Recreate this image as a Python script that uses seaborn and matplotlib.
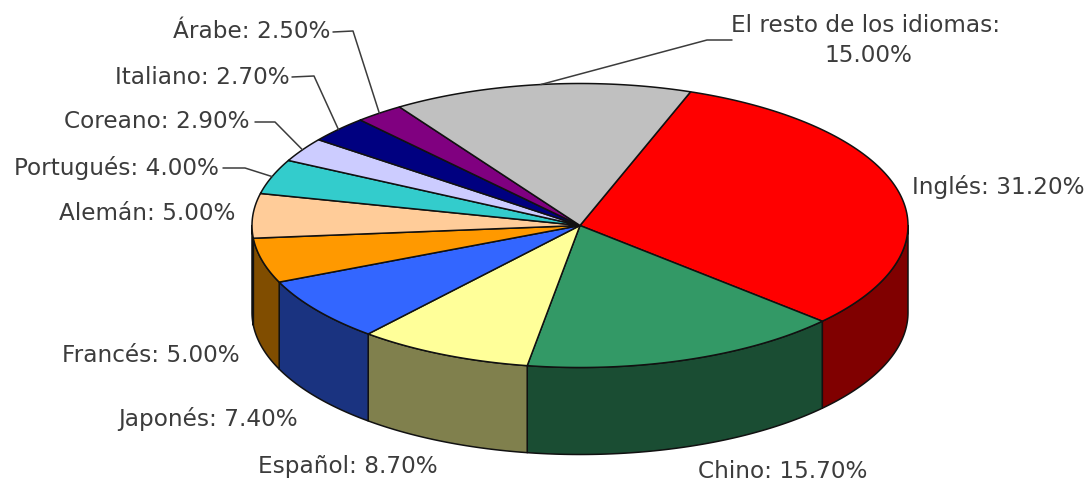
import numpy as np
import matplotlib
matplotlib.use("Agg")
import matplotlib.pyplot as plt
import seaborn as sns

languages = ["Inglés", "Chino", "Español", "Japonés", "Francés", "Alemán",
             "Portugués", "Coreano", "Italiano", "Árabe", "El resto de los idiomas"]
labelled_percent = [31.20, 15.70, 8.70, 7.40, 5.00, 5.00, 4.00, 2.90, 2.70, 2.50, 15.00]
# Share of the ring each slice really occupies in the picture (percent)
drawn_share = [31.3, 15.8, 8.6, 7.3, 5.1, 5.05, 3.95, 2.75, 3.0, 2.4, 14.75]
top_colors = ["#ff0000", "#339966", "#ffff99", "#3366ff", "#ff9900", "#ffcc99",
              "#33cccc", "#ccccff", "#000080", "#800080", "#c0c0c0"]

sns.set_theme(style="white")
plt.rcParams["font.family"] = ["DejaVu Sans"]

W, H = 1090, 482
CX, CY, RX, RY, DEPTH = 580, 225.5, 328, 142, 87
START = 70.3
TEXT = "#3c3c3c"
palette = sns.color_palette(top_colors)
walls = [tuple(c * 0.5 for c in col) for col in palette]

fig = plt.figure(figsize=(W / 100, H / 100), dpi=100, facecolor="white")
ax = fig.add_axes([0, 0, 1, 1])
ax.set_xlim(0, W)
ax.set_ylim(H, 0)
ax.axis("off")


def rim(deg):
    t = np.radians(deg)
    return CX + RX * np.cos(t), CY - RY * np.sin(t)


sweep = np.array(drawn_share) / sum(drawn_share) * 360
ends = START - np.cumsum(sweep)
starts = ends + sweep

# front wall: only the part of each slice on the near side of the ellipse
for a, b, wall in zip(starts, ends, walls):
    lo, hi = max(b, -180), min(a, 0)
    if lo >= hi:
        continue
    xs, ys = rim(np.linspace(hi, lo, 80))
    ax.fill(np.r_[xs, xs[::-1]], np.r_[ys, ys[::-1] + DEPTH],
            facecolor=wall, edgecolor="#111111", lw=1.1, joinstyle="round", zorder=2)

# top face
for a, b, col in zip(starts, ends, palette):
    xs, ys = rim(np.linspace(a, b, 120))
    ax.fill(np.r_[CX, xs], np.r_[CY, ys],
            facecolor=col, edgecolor="#111111", lw=1.1, joinstyle="round", zorder=3)

# text layout: language -> (x, y, ha)
label_pos = {
    "Inglés": (912, 187, "left"),
    "Chino": (698, 472, "left"),
    "Español": (258, 467, "left"),
    "Japonés": (118, 419, "left"),
    "Francés": (62, 355, "left"),
    "Alemán": (235, 214, "right"),
    "Portugués": (219, 168, "right"),
    "Coreano": (250, 122, "right"),
    "Italiano": (290, 78, "right"),
    "Árabe": (330, 32, "right"),
}
# leader lines: language -> points from the text to the elbow
leader_pos = {
    "Árabe": [(333, 32), (353, 31)],
    "Italiano": [(292, 77), (314, 76)],
    "Coreano": [(255, 122), (275, 122)],
    "Portugués": [(223, 168), (245, 168)],
    "El resto de los idiomas": [(732, 40), (707, 40)],
}

FS = 16.7
for name, pct, a, b in zip(languages, labelled_percent, starts, ends):
    if name in label_pos:
        x, y, ha = label_pos[name]
        ax.text(x, y, f"{name}: {pct:.2f}%", ha=ha, va="center",
                fontsize=FS, color=TEXT, zorder=5)
    else:
        ax.text(866, 26, f"{name}:", ha="center", va="center", fontsize=FS, color=TEXT, zorder=5)
        ax.text(868, 56, f"{pct:.2f}%", ha="center", va="center", fontsize=FS, color=TEXT, zorder=5)
    if name in leader_pos:
        ex, ey = rim((a + b) / 2)
        pts = leader_pos[name] + [(ex, ey)]
        ax.plot([p[0] for p in pts], [p[1] for p in pts], color="#3c3c3c", lw=1.1, zorder=4)

fig.savefig("out.png", dpi=100, facecolor="white")
